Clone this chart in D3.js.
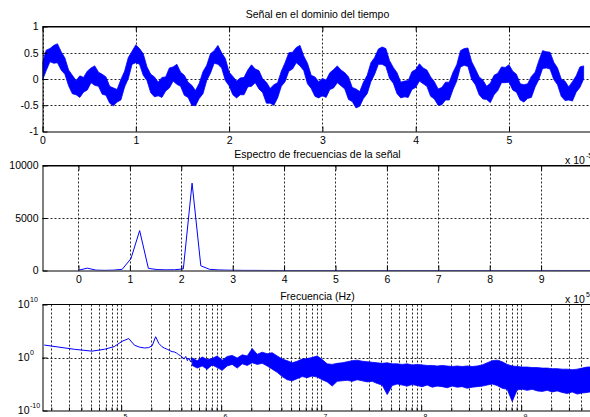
<!DOCTYPE html>
<html><head><meta charset="utf-8">
<script src="https://cdn.jsdelivr.net/npm/d3@7"></script>
<style>
html,body{margin:0;padding:0;background:#fff;overflow:hidden}
svg{display:block;font-family:"Liberation Sans",Arial,Helvetica,sans-serif}
</style></head><body>
<svg id="c" width="590" height="417"></svg>
<script>
// ---------- DATA ----------
// Time signal (units of 10^-5 s), sampled every timeStep; upper / lower envelope of the noisy trace
const timeStep = 0.04;
const sigUpper = [
 0.32,0.55,0.58,0.64,0.67,0.52,0.40,0.17,0.07,-0.03,
 0.06,0.03,0.15,0.21,0.25,0.13,0.09,0.04,-0.14,-0.17,
 -0.20,-0.01,0.15,0.41,0.53,0.65,0.58,0.48,0.23,0.09,
 0.04,-0.06,0.03,0.04,0.21,0.23,0.28,0.13,0.07,-0.06,
 -0.12,-0.22,-0.08,0.14,0.26,0.48,0.54,0.64,0.50,0.39,
 0.13,0.05,-0.04,0.02,0.03,0.17,0.27,0.19,0.16,0.00,
 -0.06,-0.18,-0.11,-0.07,0.15,0.31,0.50,0.51,0.60,0.64,
 0.44,0.30,0.07,0.04,-0.05,0.01,-0.02,0.12,0.18,0.25,
 0.17,0.12,0.04,-0.16,-0.19,-0.24,-0.06,0.07,0.31,0.41,
 0.57,0.61,0.58,0.35,0.22,0.12,-0.06,-0.04,-0.03,0.14,
 0.18,0.29,0.21,0.17,0.04,-0.05,-0.19,-0.16,-0.06,-0.06,
 0.13,0.27,0.54,0.58,0.59,0.33,0.19,0.04,-0.02,-0.14,
 -0.08,0.07,0.11,0.23,0.22,0.27,0.15,0.09,-0.09,-0.11,
 -0.09,0.05,0.13,0.35,0.54,0.52,0.51,0.32,0.21,0.00,
 -0.04,-0.15,-0.05,0.06,0.23,0.25];
const sigLower = [
 -0.02,0.16,0.33,0.30,0.31,0.17,0.09,-0.13,-0.28,-0.30,
 -0.35,-0.25,-0.21,-0.07,-0.12,-0.14,-0.29,-0.31,-0.46,-0.51,
 -0.44,-0.40,-0.15,0.01,0.28,0.31,0.28,0.07,-0.03,-0.26,
 -0.34,-0.32,-0.35,-0.23,-0.17,-0.04,-0.10,-0.14,-0.31,-0.35,
 -0.50,-0.51,-0.37,-0.28,-0.03,0.11,0.30,0.28,0.21,-0.03,
 -0.13,-0.30,-0.36,-0.30,-0.30,-0.15,-0.14,-0.07,-0.19,-0.26,
 -0.46,-0.46,-0.50,-0.36,-0.14,-0.05,0.15,0.19,0.31,0.25,
 0.16,-0.09,-0.18,-0.33,-0.36,-0.32,-0.35,-0.20,-0.17,-0.07,
 -0.13,-0.19,-0.39,-0.43,-0.55,-0.52,-0.37,-0.28,-0.05,0.09,
 0.28,0.28,0.24,0.01,-0.08,-0.28,-0.36,-0.34,-0.35,-0.20,
 -0.16,-0.04,-0.09,-0.14,-0.33,-0.38,-0.50,-0.49,-0.40,-0.40,
 -0.20,-0.04,0.23,0.26,0.24,-0.01,-0.11,-0.30,-0.38,-0.39,
 -0.45,-0.30,-0.22,-0.07,-0.07,-0.06,-0.21,-0.25,-0.40,-0.44,
 -0.37,-0.35,-0.15,-0.01,0.20,0.21,0.19,-0.01,-0.11,-0.33,
 -0.41,-0.40,-0.42,-0.25,-0.16,0.00];
const timeTicks = [0,1,2,3,4,5];
const ampTicks = [-1,-0.5,0,0.5,1];

// Spectrum: bin spacing freqStep (units of 10^5 Hz); log10 magnitude of bins k = 1..30
const freqStep = 0.17;
const dcMag = 20;
const specLog = [2.35,1.55,1.20,1.55,2.05,3.05,3.58,2.30,1.95,1.80,
                 1.85,2.20,3.92,2.65,2.05,1.75,1.55,1.30,1.10,1.05,
                 0.85,0.55,0.35,0.10,-0.30,0.20,-0.60,-0.10,-0.80,-0.20];
const freqTicks = [0,1,2,3,4,5,6,7,8,9];
const magTicks = [0,5000,10000];

// Dense high-frequency part of the spectrum: envelope (log10 magnitude) at log10(f) = bandLogStart + j*bandLogStep
const bandLogStart = 5.71, bandLogStep = 0.05;
const bandHi = [
 -0.1,-0.6,0.1,-0.4,-0.2,0.3,-0.5,0.2,0.4,-0.1,
 0.5,0.3,1.7,0.6,1.0,0.7,0.9,0.3,-0.3,-0.6,
 -1.0,-0.7,-0.3,-0.2,0.0,0.3,-0.4,-1.2,-1.3,-1.1,
 -1.0,-0.8,-0.6,-0.5,-0.7,-0.8,-0.9,-1.0,-1.1,-1.0,
 -1.2,-1.2,-1.3,-1.2,-1.4,-1.3,-1.4,-1.5,-1.5,-1.6,
 -1.5,-1.6,-1.7,-1.6,-1.7,-1.6,-1.7,-1.6,-1.4,-1.0,
 -0.6,-0.5,-0.8,-1.3,-1.6,-1.7,-1.8,-1.8,-1.9,-1.9,
 -2.0,-2.0,-2.1,-2.1,-2.2,-2.2,-2.3,-2.2,-2.0,-1.8,
 -1.8];
const bandLo = [
 -1.5,-2.0,-1.6,-2.2,-1.4,-1.9,-2.4,-1.6,-1.3,-2.0,
 -1.2,-1.5,-1.0,-1.3,-1.1,-1.6,-2.2,-2.8,-3.6,-4.2,
 -4.4,-4.0,-3.6,-3.8,-3.5,-3.7,-4.2,-4.6,-5.4,-4.5,
 -4.4,-4.3,-4.5,-4.2,-4.4,-4.6,-4.5,-4.9,-5.2,-7.0,
 -5.3,-5.0,-5.2,-5.4,-5.1,-5.3,-5.5,-5.2,-5.6,-5.4,
 -5.5,-5.7,-5.4,-5.6,-5.5,-5.8,-5.6,-5.5,-5.4,-5.2,
 -5.0,-5.3,-5.8,-6.0,-8.3,-6.1,-6.0,-6.2,-6.0,-6.3,
 -6.4,-6.2,-6.5,-6.3,-6.6,-6.8,-6.5,-6.9,-6.7,-6.6,
 -6.4];
const decadeTicks = [1e5,1e6,1e7,1e8,1e9];
const decadeSup = ["5","6","7","8","9"];
const logYTicks = [1e-10,1e0,1e10];
const logYSup = ["-10","0","10"];

const titles = ["Señal en el dominio del tiempo","Espectro de frecuencias de la señal"];
const xlabelFreq = "Frecuencia (Hz)";

// ---------- DRAW ----------
const svg = d3.select('#c');
const L = 42.5, R = 592.5, FS = 10.5, SUP = 7;
const BLUE = '#0000ff';
const FONT = '"Liberation Sans",Arial,Helvetica,sans-serif';

function grid(g, xs, ys, top, bot){
  g.selectAll(null).data(xs).join('line')
    .attr('x1',d=>Math.round(d)+0.5).attr('x2',d=>Math.round(d)+0.5)
    .attr('y1',top).attr('y2',bot)
    .attr('stroke','#000').attr('stroke-width',1).attr('stroke-dasharray','2,2').attr('opacity',0.85);
  g.selectAll(null).data(ys).join('line')
    .attr('y1',d=>Math.round(d)+0.5).attr('y2',d=>Math.round(d)+0.5)
    .attr('x1',L).attr('x2',R)
    .attr('stroke','#000').attr('stroke-width',1).attr('stroke-dasharray','2,2').attr('opacity',0.85);
}
function styleAxis(g){
  g.attr('font-size',FS).attr('font-family',FONT);
  g.selectAll('text').attr('fill','#000');
  g.selectAll('line,path').attr('stroke','#000');
}
function clip(id, top, bot){
  svg.append('clipPath').attr('id',id).append('rect')
    .attr('x',L).attr('y',top).attr('width',R-L).attr('height',bot-top);
}
function frame(top){
  svg.append('line').attr('x1',L).attr('x2',R).attr('y1',top).attr('y2',top).attr('stroke','#000');
}

// ===== Panel 1: time signal =====
const T1 = 26.5, B1 = 131.5;
const xT = d3.scaleLinear([0,5.895],[L,R]);
const yT = d3.scaleLinear([-1,1],[B1,T1]);
const g1 = svg.append('g');
grid(g1, timeTicks.map(xT), [-0.5,0,0.5].map(yT), T1, B1);
clip('c1',T1,B1);
const area1 = d3.area()
  .x((d,i)=>xT(i*timeStep))
  .y0((d,i)=>yT(sigLower[i]))
  .y1((d,i)=>yT(sigUpper[i]));
svg.append('path').datum(sigUpper).attr('clip-path','url(#c1)')
  .attr('d',area1).attr('fill',BLUE).attr('stroke',BLUE).attr('stroke-width',0.8).attr('stroke-linejoin','miter');
frame(T1);
svg.append('g').attr('transform',`translate(${L},0)`)
  .call(d3.axisLeft(yT).tickValues(ampTicks).tickSize(-5).tickSizeOuter(0).tickPadding(4).tickFormat(d=>String(d)))
  .call(styleAxis);
svg.append('g').attr('transform',`translate(0,${B1})`)
  .call(d3.axisBottom(xT).tickValues(timeTicks).tickSize(-5).tickSizeOuter(0).tickPadding(5).tickFormat(d=>String(d)))
  .call(styleAxis);
svg.append('g').attr('transform',`translate(0,${T1})`)
  .call(d3.axisTop(xT).tickValues(timeTicks).tickSize(-5).tickSizeOuter(0).tickFormat(''))
  .call(styleAxis);

// ===== Panel 2: linear spectrum =====
const T2 = 165.5, B2 = 270.5;
const xM = d3.scaleLinear([-0.7,10],[L,R]);
const yM = d3.scaleLinear([0,10000],[B2,T2]);
const g2 = svg.append('g');
grid(g2, freqTicks.map(xM), [5000].map(yM), T2, B2);
clip('c2',T2,B2);
const specPts = [{f:0,m:dcMag}]
  .concat(specLog.map((v,i)=>({f:(i+1)*freqStep, m:Math.pow(10,v)})))
  .concat(bandHi.map((v,j)=>({lf:bandLogStart+j*bandLogStep, v}))
    .filter(d=>d.lf<=6.02).map(d=>({f:Math.pow(10,d.lf)/1e5, m:Math.pow(10,d.v)})));
svg.append('path').datum(specPts).attr('clip-path','url(#c2)')
  .attr('d',d3.line().x(d=>xM(d.f)).y(d=>yM(d.m)))
  .attr('fill','none').attr('stroke',BLUE).attr('stroke-width',1);
frame(T2);
svg.append('g').attr('transform',`translate(${L},0)`)
  .call(d3.axisLeft(yM).tickValues(magTicks).tickSize(-5).tickSizeOuter(0).tickPadding(4).tickFormat(d=>String(d)))
  .call(styleAxis);
svg.append('g').attr('transform',`translate(0,${B2})`)
  .call(d3.axisBottom(xM).tickValues(freqTicks).tickSize(-5).tickSizeOuter(0).tickPadding(5).tickFormat(d=>String(d)))
  .call(styleAxis);
svg.append('g').attr('transform',`translate(0,${T2})`)
  .call(d3.axisTop(xM).tickValues(freqTicks).tickSize(-5).tickSizeOuter(0).tickFormat(''))
  .call(styleAxis);

// ===== Panel 3: log-log spectrum =====
const T3 = 304.5, B3 = 410.5;
const xB = d3.scaleLog([Math.pow(10,4.213),Math.pow(10,9.713)],[L,R]);
const yB = d3.scaleLog([1e-10,1e10],[B3,T3]);
const minorX = [];
for (let d=4; d<=9; d++) for (let n=1; n<=9; n++){ const v=n*Math.pow(10,d); if (xB(v)>L+0.6 && xB(v)<R) minorX.push(v); }
const g3 = svg.append('g');
grid(g3, minorX.map(xB), [1].map(yB), T3, B3);
clip('c3',T3,B3);
const lowPts = specLog.map((v,i)=>({f:(i+1)*freqStep*1e5, m:Math.pow(10,v)}));
lowPts.push({f:Math.pow(10,bandLogStart), m:Math.pow(10,bandHi[0])});
svg.append('path').datum(lowPts).attr('clip-path','url(#c3)')
  .attr('d',d3.line().x(d=>xB(d.f)).y(d=>yB(d.m)))
  .attr('fill','none').attr('stroke',BLUE).attr('stroke-width',1);
const bandPts = bandHi.map((v,j)=>({f:Math.pow(10,bandLogStart+j*bandLogStep), hi:Math.pow(10,v), lo:Math.pow(10,bandLo[j])}));
svg.append('path').datum(bandPts).attr('clip-path','url(#c3)')
  .attr('d',d3.area().x(d=>xB(d.f)).y0(d=>yB(d.lo)).y1(d=>yB(d.hi)))
  .attr('fill',BLUE).attr('stroke',BLUE).attr('stroke-width',0.8).attr('stroke-linejoin','miter');
frame(T3);
svg.append('g').attr('transform',`translate(${L},0)`)
  .call(d3.axisLeft(yB).tickValues(logYTicks).tickSize(-5).tickSizeOuter(0).tickFormat(''))
  .call(styleAxis);
logYTicks.forEach((v,i)=>{
  svg.append('text').attr('font-family',FONT).attr('fill','#000').attr('font-size',FS)
    .attr('x',29.5).attr('y',yB(v)+3.5).attr('text-anchor','end').text('10');
  svg.append('text').attr('font-family',FONT).attr('fill','#000').attr('font-size',SUP)
    .attr('x',30).attr('y',yB(v)-2.5).text(logYSup[i]);
});
svg.append('g').attr('transform',`translate(0,${B3})`)
  .call(d3.axisBottom(xB).tickValues(decadeTicks).tickSize(-5).tickSizeOuter(0).tickFormat(''))
  .call(styleAxis);
svg.append('g').attr('transform',`translate(0,${B3})`)
  .call(d3.axisBottom(xB).tickValues(minorX.filter(v=>!decadeTicks.includes(v))).tickSize(-3).tickSizeOuter(0).tickFormat(''))
  .call(g=>g.select('.domain').remove()).call(styleAxis);
decadeTicks.forEach((v,i)=>{
  svg.append('text').attr('font-family',FONT).attr('fill','#000').attr('font-size',FS)
    .attr('x',xB(v)+2).attr('y',B3+16).attr('text-anchor','end').text('10');
  svg.append('text').attr('font-family',FONT).attr('fill','#000').attr('font-size',SUP)
    .attr('x',xB(v)+2.3).attr('y',B3+8).text(decadeSup[i]);
});

// ===== Titles and labels =====
const cx = (L+R)/2;
svg.append('text').attr('x',cx).attr('y',17.5).attr('text-anchor','middle')
  .attr('font-family',FONT).attr('font-size',FS).text(titles[0]);
svg.append('text').attr('x',cx).attr('y',157.5).attr('text-anchor','middle')
  .attr('font-family',FONT).attr('font-size',FS).text(titles[1]);
svg.append('text').attr('x',cx).attr('y',299.5).attr('text-anchor','middle')
  .attr('font-family',FONT).attr('font-size',FS).text(xlabelFreq);
// exponent labels
[[163.5,'-5'],[302.5,'5']].forEach(([yy,s])=>{
  svg.append('text').attr('x',565).attr('y',yy).attr('font-family',FONT).attr('font-size',FS).text('x 10');
  svg.append('text').attr('x',586).attr('y',yy-5.5).attr('font-family',FONT).attr('font-size',SUP).text(s);
});
</script>
</body></html>
